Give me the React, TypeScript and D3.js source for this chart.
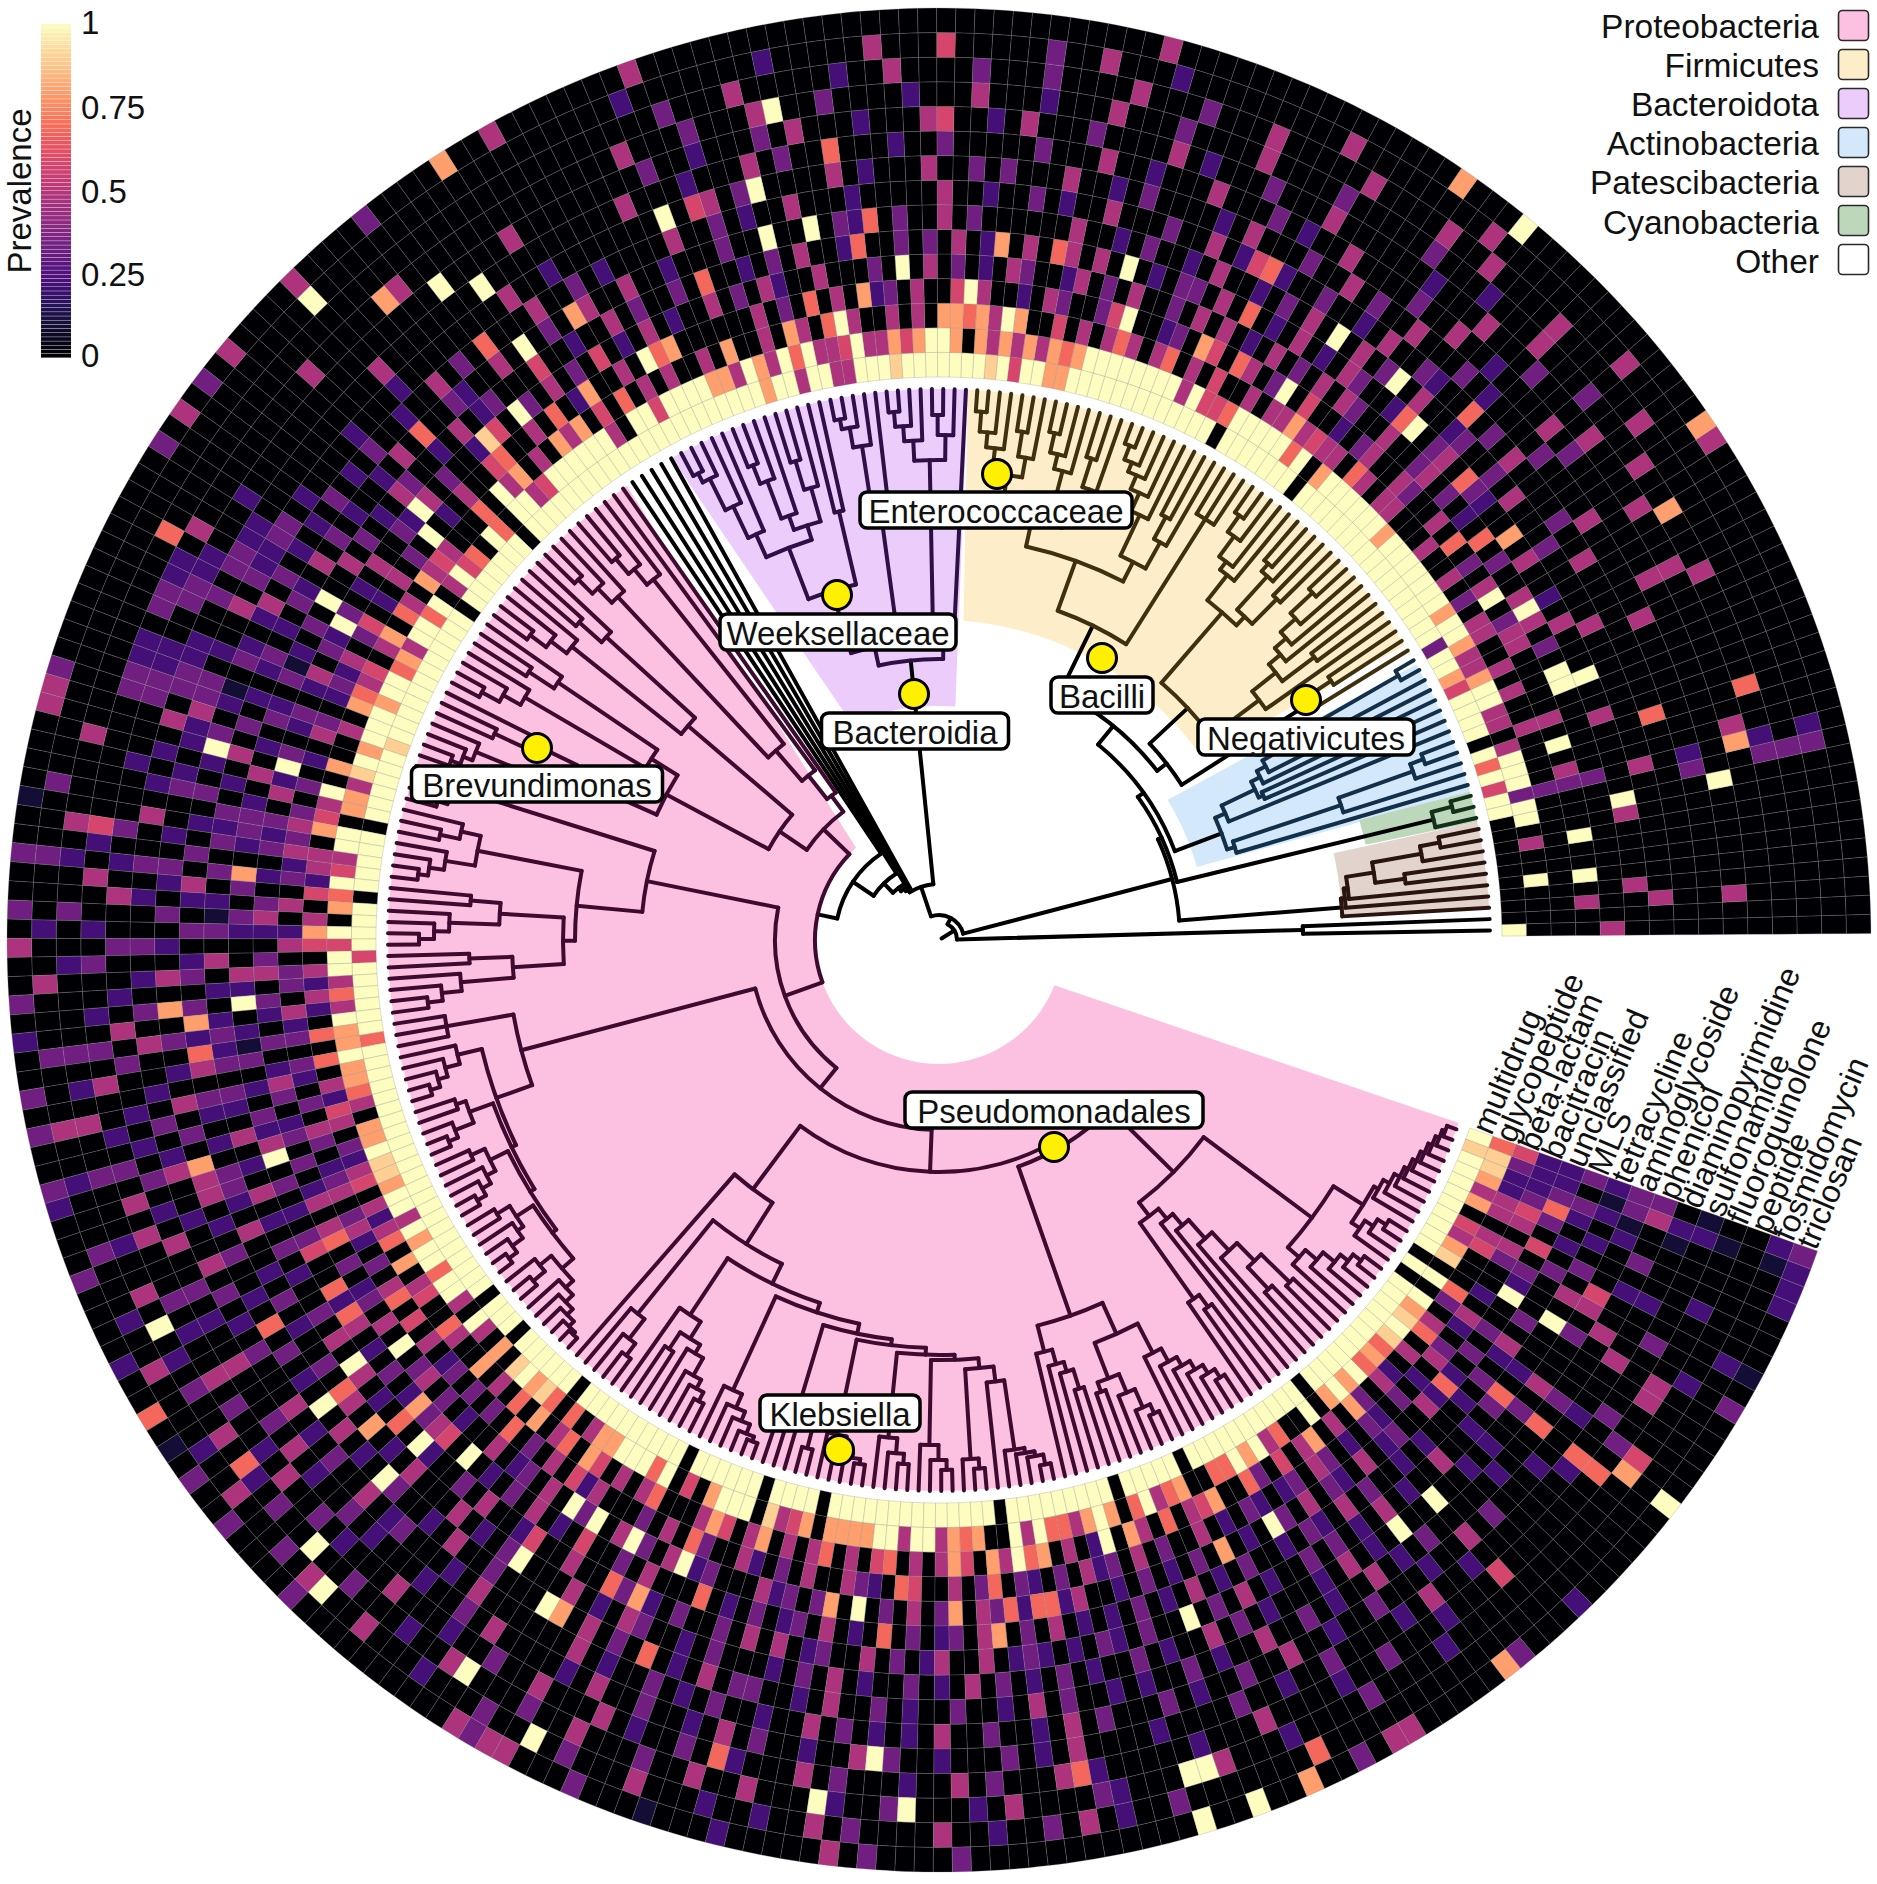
import * as d3 from 'd3'

// antibiotic classes, inner ring first
const drugClasses = ['multidrug', 'glycopeptide', 'beta-lactam', 'bacitracin', 'unclassified', 'MLS', 'tetracycline', 'aminoglycoside', 'phenicol', 'diaminopyrimidine', 'sulfonamide', 'fluoroquinolone', 'peptide', 'fosmidomycin', 'triclosan']

const multidrug = '900000000099596909999579 939999999999999999909999 999099999999999997799598 999999989994499499799999 999999999999999999099999 990999999999999899999909 999909999599999969999999 999999999999999909990999 999099999999990999999099 990999999999999990999999 999099999099999999999099 999999999909099999999989'
const glycopeptide = '000090040993999404499744 799799999997999999709699 999655949999999976747474 707997574495449694794779 999599049999995499769065 947969947699799979849709 945967095994649779776407 798879949799699479497089 786760477999699507999784 570767799499476790949664 797069467606697946009479 796768987909087450747886'
const betaLactam = '000000000003000040040400 440304004000440460445404 404005040640464040500704 767704040040604704007040 040406050747040745060004 547046074054670400704457 044250475042420606042540 324504246070450064007040 607046075040460004750470 404604056040405074067040 250740604570063050470407 304204064036000540442235'
const bacitracin = '004000000003400040000044 300403060400340043020050 030460500320005300340200 425004032704060304000000 003040052060400650040203 030402053042320340203034 342304024033042303203043 023403420304605040230303 060304052400030406300420 304004320650040360320304 230403004020320230430203 203020430240200340453222'
const unclassified = '400000000003000000000304 040030602030430040034040 304020404030040304200340 203040303000400240304002 040205030403005420030402 300402030230420320302403 230203420340320302430230 302404603023040203403020 040230400300403040230004 230340203040320430203240 020302030402023040320402 300420203030002302036322'
const mls = '000400004000000400000040 200404002300430062003402 040202040330200040430400 204030300620040302006030 030400200500032040200340 203040020302130230204023 320230320042302130203240 030203500320402030203420 402030402050030400040203 023040206030230420304020 203020402030020320403002 020002030240300030202303'
const tetracycline = '004000000004000000000400 000300040300320040030403 040302004020030200400000 030400300230400300300020 040040030204002300604020 020304023020320203040203 230302130402023230320402 040203020030403402060420 030400250040063020300304 040230040302400402320203 203002030402003030204020 040020300200020403020212'
const aminoglycoside = '000000000000006000000000 040030000403060023004020 030020020400300040020300 200400000200040020300400 002030040006030400200302 030202030420230120302030 203042030230302040320203 320400203020030240302040 004020300004020430020300 020304020030204030203020 030200403020002040203003 002020030400030420002133'
const phenicol = '000000000032000000004000 000400003000020300040030 400300040200003020040003 030040002040000030400300 000002004000000002000200 002033223040020334220230 020320302040203020403024 402030020603020304020030 020400300020040306020403 300204003020030020403002 020030200400302004020300 000200020300004002030043'
const diaminopyrimidine = '004000000000000000000040 000000030400002004003000 040020300040002004000300 000300200060030400020004 000000000400000004000000 000002233030022330402020 400302003020304002030240 020040302030004020300402 300020400000040200302030 020040302020400300204030 003020030040020030002004 030002000200040002000120'
const sulfonamide = '000000000000400000000040 004000040000300040002000 000400030002040000300040 200040002000403000200300 000000400000000000000000 000020002233002233000200 030204003002040300202030 204003020040003040200302 000200304000020400300204 030020040300200030204000 020000300200300002040020 000000200030000300000021'
const fluoroquinolone = '000000000032006000000400 000040000300040002000300 000300004000030004000200 040002000030004000300040 000000000000040000004000 000000040223302233000000 002040020300203040020304 040003020040300204003020 004000200300400040200300 200040300020040300040200 000200040000200300020005 000000000300000000200010'
const peptide = '000000000030000000000000 000000400000040000400400 004000004000300040000300 030000400200000400030000 000000000000000000000000 000000000000000000004000 040200300200003020400300 020040002030040020300400 300020040000300400030040 040000200300002040000320 000040002000030000200000 000000000000002000000000'
const fosmidomycin = '000000000032000000000000 000000000400000000040000 000040000000002000400300 000400040000020000000200 000000000000000000000000 000000000000000000000003 000300020040003000400200 030002004000020040003040 004000200030000300040002 002004030000400200304020 030000000200000000000000 000000000000000020000012'
const triclosan = '000000000000000000000000 000470000000000000900070 000000000000000400000000 000000000000000000004000 000040070000300004000040 304030000000000003440000 100300304003020030300320 003000020060103003000030 000000000434400030001000 200000403000030000000000 009009007003044000007300 020000009000003010002223'

const ringValues = [multidrug, glycopeptide, betaLactam, bacitracin, unclassified, mls, tetracycline, aminoglycoside, phenicol, diaminopyrimidine, sulfonamide, fluoroquinolone, peptide, fosmidomycin, triclosan]
const levels = [0, 0.1, 0.22, 0.33, 0.48, 0.58, 0.68, 0.8, 0.9, 1]

// cells that stand out in the picture: ring, tip, level
const brightCells = [
  [3, 4, 9], [3, 7, 9], [3, 14, 9], [4, 18, 9], [4, 19, 9], [5, 9, 9], [5, 18, 9], [9, 9, 9], [5, 8, 4], [5, 3, 4], [6, 2, 4], [6, 11, 4], [7, 14, 6], [10, 12, 4], [10, 11, 7], [11, 14, 6], [8, 10, 3], [8, 11, 2],
  [11, 85, 9], [8, 87, 9], [8, 93, 9], [8, 91, 5], [6, 87, 9], [6, 84, 9], [6, 80, 6], [4, 78, 9], [2, 83, 9],
  [13, 113, 9], [11, 110, 7], [10, 107, 9], [9, 105, 9], [6, 101, 7], [6, 105, 9], [4, 108, 9], [4, 111, 8], [3, 103, 7], [3, 97, 6], [3, 98, 9], [3, 96, 7],
  [2, 113, 9], [4, 118, 9], [3, 119, 9], [5, 127, 9], [4, 128, 9], [12, 128, 6], [7, 139, 9], [4, 139, 9], [2, 140, 9], [1, 140, 7], [11, 145, 5], [5, 147, 7],
  [5, 156, 9], [8, 156, 7], [7, 157, 7], [7, 159, 6], [5, 167, 9], [8, 166, 7], [1, 166, 0], [12, 174, 9], [5, 177, 6], [5, 179, 6], [6, 182, 9], [4, 183, 9], [12, 183, 6], [7, 183, 6], [8, 183, 9],
  [7, 186, 7], [5, 187, 7], [6, 189, 9], [5, 192, 9], [8, 189, 9], [5, 190, 5], [12, 189, 9], [13, 191, 9], [12, 200, 9], [13, 205, 9], [8, 202, 9], [8, 203, 7], [7, 199, 9], [4, 200, 9], [4, 202, 9], [4, 205, 9],
  [6, 207, 7], [4, 209, 9], [5, 211, 6], [11, 215, 6], [4, 222, 9], [4, 220, 7], [1, 220, 7], [12, 221, 9], [10, 224, 9], [12, 226, 9],
  [2, 229, 7], [4, 229, 7], [5, 232, 7], [2, 234, 9], [4, 233, 6], [4, 235, 6], [4, 236, 6], [11, 236, 6], [2, 241, 9], [12, 242, 9], [12, 243, 9], [6, 245, 9], [4, 249, 7], [4, 253, 9], [7, 260, 9], [7, 263, 9], [13, 249, 6],
  [8, 271, 6], [10, 271, 6], [11, 271, 6], [12, 272, 7], [12, 273, 5], [6, 271, 6], [4, 269, 6], [6, 277, 9], [4, 277, 9], [7, 280, 5], [4, 281, 5], [11, 277, 4], [11, 276, 4],
  [6, 42, 9], [5, 39, 9], [5, 62, 9], [3, 61, 9], [6, 47, 9], [3, 48, 9], [5, 53, 6], [3, 55, 7], [7, 53, 6], [7, 54, 5], [5, 67, 6], [2, 70, 9], [3, 73, 9], [5, 71, 7], [13, 75, 5], [10, 75, 5], [5, 34, 6], [5, 29, 7], [11, 25, 7], [4, 24, 9], [3, 26, 9], [2, 46, 7],
  [1, 114, 0], [1, 122, 0], [1, 184, 0], [1, 187, 0], [1, 195, 0], [1, 206, 0], [1, 213, 0], [1, 218, 0], [1, 232, 0], [1, 243, 0], [1, 249, 0], [1, 261, 0], [1, 276, 0],
]

// tree, each node is its radius with children, t is a tip
const otherStem = '364(t,t)'
const patescibacteria = '404(t,408(t,412(t,440(470(t,t),490(t,510(t,t))))))'
const cyanobacteria = '509(t,530(t,t))'
const actinobacteria = '302(310(t,424(t,503(t,517(t,t)))),313(t,350(355(t,t),360(t,370(t,420(t,530(t,t)))))))'
const negativicutes = '438(t,470(t,t))'
const firmJ = '400(t,430(470(t,t),445(t,460(t,480(t,510(t,t))))))'
const firmH = '433(445(480(t,t),490(t,500(t,t))),465(t,475(t,500(t,520(t,t)))))'
const firmK = '498(t,t,t)'
const firmM = '425(455(t,480(t,t)),470(t,490(t,505(t,515(t,530(t,t))))))'
const firmNa = '455(475(t,505(t,t)),485(t,500(t,520(t,t))))'
const enterococcaceae = '470(490(t,515(t,t)),495(t,510(t,530(t,t))))'
const firmicutes = `276(288(${negativicutes},340(${firmJ},${firmH})),350(${firmK},403(${firmM},430(${firmNa},${enterococcaceae}))))`
const lilacA = '300(t,480(505(t,525(t,t)),500(t,515(t,530(t,t)))))'
const lilacB = '420(t,500(t,520(t,530(t,t))))'
const weeksellaceae = '365(440(t,t),420(435(470(t,500(t,t)),450(t,490(t,510(t,t)))),445(t,480(t,515(t,525(t,t))))))'
const bacteroidota = `281(${lilacA},300(${lilacB},${weeksellaceae}))`
const alpha1 = '180(t,210(t,250(460(t,480(t,500(t,t))),470(t,490(t,510(t,t))))))'
const alpha3 = '330(450(t,480(t,t)),470(t,490(t,510(t,t))))'
const alpha5 = '340(460(t,490(t,t)),480(t,500(t,520(t,t))))'
const brevundimonas = '402(445(t,490(t,t)),500(t,510(t,520(t,t))))'
const alphaTop = `160(${alpha1},193(${alpha3},309(${alpha5},${brevundimonas})))`
const w1 = '501(t,510(t,520(t,t)))'
const w21 = '470(490(t,510(t,t)),500(t,515(t,525(t,t))))'
const w221 = '440(470(t,t),490(t,505(t,520(t,t))))'
const w222 = '427(470(t,t),480(t,500(t,515(t,t))))'
const cladeW = `298(${w1},364(${w21},376(${w221},${w222})))`
const v1 = '500(t,t,t)'
const v21 = '495(t,510(t,520(t,530(t,t))))'
const v22 = '500(510(t,t),520(t,530(t,t)))'
const v23 = '500(515(t,t),510(t,520(t,530(t,t))))'
const v24 = '505(520(t,t),512(t,525(t,535(t,t))))'
const v25 = '500(515(t,530(t,t)),510(t,520(t,528(t,535(t,538(t,t))))))'
const cladeV = `432(${v1},470(${v21},475(${v22},480(${v23},485(${v24},${v25})))))`
const n2a = '480(t,505(t,520(t,t)))'
const n3a = '450(t,470(490(t,t),480(t,500(t,510(t,520(t,t))))))'
const a1 = '495(t,510(t,520(t,530(t,535(t,t)))))'
const a2 = '495(515(t,t),505(t,525(t,t)))'
const klebsiella = '505(t,520(t,525(t,530(t,t))))'
const a4 = '500(t,515(t,525(t,t)))'
const a5 = '505(t,520(t,530(t,t)))'
const a6 = '520(t,530(t,t))'
const a7 = '445(t,515(t,520(t,525(t,535(t,t)))))'
const cladeZ = `311(t,360(${n2a},382(${n3a},392(${a1},402(${a2},408(${klebsiella},415(${a4},420(${a5},430(${a6},${a7})))))))))`
const pa1 = '425(t,440(t,450(t,470(t,t))))'
const pa2a = '470(480(t,t),490(t,510(t,520(t,t))))'
const pa2b = '465(t,480(t,490(t,500(t,510(t,520(t,t))))))'
const pb1 = '347(440(t,455(t,t)),360(t,375(t,400(t,425(t,450(480(t,t),490(t,t)))))))'
const pb2a = '480(t,495(t,510(t,520(t,530(t,t)))))'
const pb2b = '500(510(t,520(t,530(t,t))),505(t,512(t,518(t,522(t,526(t,530(t,534(t,538(t,541(t,t))))))))))'
const pseudomonadales = `240(398(${pa1},432(${pa2a},${pa2b})),330(${pb1},465(${pb2a},${pb2b})))`
const proteobacteria = `124(${alphaTop},164(${cladeW},190(${cladeV},232(${cladeZ},${pseudomonadales}))))`
const treeText = `18(${otherStem},25(241(${patescibacteria},245(${cyanobacteria},252(${actinobacteria},${firmicutes}))),56(${bacteroidota},59(t,62(t,66(t,79(t,104(t,${proteobacteria})))))))) `

// legend
const phylaNames = ['Proteobacteria', 'Firmicutes', 'Bacteroidota', 'Actinobacteria', 'Patescibacteria', 'Cyanobacteria', 'Other']
const phylaFills = ['#fcc0e0', '#fdedc8', '#ecccfb', '#d3e8fa', '#e2d3cc', '#bdd7bb', '#ffffff']
const colorTicks = [0, 0.25, 0.5, 0.75, 1]

// clades: tips covered, line colour, radius where the colour starts
const cladeFirstTip = [105, 26, 73, 13, 2, 10]
const cladeLastTip = [287, 72, 99, 25, 9, 12]
const cladeLines = ['#3d0a30', '#3f3010', '#2e0f48', '#12304a', '#2a1410', '#12301a']
const cladeFromRadius = [124, 330, 281, 300, 404, 509]

// highlight wedges: outer angles, inner angles, inner radius
const wedgeOuter = [[124.5, 340.6], [32.3, 87], [87, 119], [15.6, 30], [3.3, 12.4], [12.4, 15.6]]
const wedgeInner = [[132, 338.6], [35, 85.6], [86, 112], [15.8, 31.5], [3.3, 12.4], [12.6, 15.9]]
const wedgeRadius = [124, 320, 234, 268, 404, 437]

// named nodes in the tree
const tagNames = ['Enterococcaceae', 'Weeksellaceae', 'Bacteroidia', 'Brevundimonas', 'Bacilli', 'Negativicutes', 'Pseudomonadales', 'Klebsiella']
const tagBox = [[996, 510, 272], [838, 632, 236], [915, 731, 187], [537, 784, 251], [1102, 695, 102], [1306, 737, 216], [1054, 1110, 298], [840, 1413, 160]]
const tagDot = [[997, 474], [837, 595], [914, 694], [537, 748], [1102, 658], [1306, 700], [1054, 1147], [839, 1450]]

const W = 1877
const H = 1884
const cx = 939
const cy = 940
const tipCount = 288
const ringInner = 563
const ringOuter = 932
const tipRadius = 551
const font = '"Liberation Sans", Arial, sans-serif'

function parseTree(text: string) {
  let p = 0
  const node = (): any => {
    if (text[p] === 't') {
      p++
      return { r: tipRadius }
    }
    let s = ''
    while (text[p] !== '(') s += text[p++]
    p++
    const children = [node()]
    while (text[p] === ',') {
      p++
      children.push(node())
    }
    p++
    return { r: +s, children }
  }
  return node()
}

const polar = (r: number, deg: number): [number, number] => {
  const a = (deg * Math.PI) / 180
  return [cx + r * Math.cos(a), cy - r * Math.sin(a)]
}

export default function App() {
  const angle = d3.scaleLinear().domain([0, tipCount]).range([0.4, 340.5])
  const radius = d3.scaleLinear().domain([0, drugClasses.length]).range([ringInner, ringOuter])
  const color = (v: number) => d3.interpolateMagma(v)

  // level grid, ring by tip
  const grid = ringValues.map(ring =>
    ring.split(' ').flatMap(block => block.padEnd(24, '0').slice(0, 24).split('').map(Number)),
  )
  brightCells.forEach(([k, i, v]) => {
    grid[k][i] = v
  })

  const cellArc = d3.arc<any>()
  const cells: any[] = []
  grid.forEach((ring, k) => {
    ring.forEach((lv, i) => {
      cells.push({
        key: `${k}-${i}`,
        fill: color(levels[lv]),
        d: cellArc({
          innerRadius: radius(k),
          outerRadius: radius(k + 1),
          startAngle: ((90 - angle(i)) * Math.PI) / 180,
          endAngle: ((90 - angle(i + 1)) * Math.PI) / 180,
        }),
      })
    })
  })

  // tree layout from the parsed text
  const root = d3.hierarchy(parseTree(treeText.trim()))
  let tip = 0
  root.eachAfter((n: any) => {
    if (!n.children) {
      n.first = tip
      n.last = tip
      n.theta = angle(tip + 0.5)
      tip++
    } else {
      const kids = n.children
      n.first = kids[0].first
      n.last = kids[kids.length - 1].last
      n.theta = (kids[0].theta + kids[kids.length - 1].theta) / 2
    }
  })

  const lineColor = (source: any, target: any) => {
    for (let c = 0; c < cladeFirstTip.length; c++) {
      if (target.first >= cladeFirstTip[c] && target.last <= cladeLastTip[c] && source.data.r >= cladeFromRadius[c]) return cladeLines[c]
    }
    return '#000000'
  }

  const branches: { d: string; stroke: string }[] = []
  root.links().forEach(({ source, target }: any) => {
    const [x0, y0] = polar(source.data.r, target.theta)
    const [x1, y1] = polar(target.data.r, target.theta)
    branches.push({ d: `M${x0},${y0}L${x1},${y1}`, stroke: lineColor(source, target) })
  })
  root.descendants().forEach((n: any) => {
    if (!n.children) return
    const a = n.children[0].theta
    const b = n.children[n.children.length - 1].theta
    const [x0, y0] = polar(n.data.r, a)
    const [x1, y1] = polar(n.data.r, b)
    const parentLike = { data: { r: n.data.r } }
    branches.push({
      d: `M${x0},${y0}A${n.data.r},${n.data.r} 0 ${b - a > 180 ? 1 : 0} 0 ${x1},${y1}`,
      stroke: lineColor(parentLike, n),
    })
  })
  const [sx0, sy0] = polar(3, (root as any).theta)
  const [sx1, sy1] = polar((root.data as any).r, (root as any).theta)

  const wedgePath = (c: number) => {
    const steps = 60
    const pts: [number, number][] = []
    d3.range(steps + 1).forEach(s => {
      pts.push(polar(tipRadius, wedgeOuter[c][0] + ((wedgeOuter[c][1] - wedgeOuter[c][0]) * s) / steps))
    })
    d3.range(steps, -1, -1).forEach(s => {
      pts.push(polar(wedgeRadius[c], wedgeInner[c][0] + ((wedgeInner[c][1] - wedgeInner[c][0]) * s) / steps))
    })
    return d3.line().curve(d3.curveLinearClosed)(pts) as string
  }

  const barY = d3.scaleLinear().domain([0, 1]).range([358, 24])
  const bands = d3.range(0, 1, 0.0125)

  return (
    <svg width={W} height={H} viewBox={`0 0 ${W} ${H}`} style={{ position: 'absolute', left: 0, top: 0, background: '#fff' }} fontFamily={font}>
      {phylaFills.slice(0, 6).map((f, c) => <path key={c} d={wedgePath(c)} fill={f} />)}

      <g fill="none" strokeWidth={4} strokeLinecap="round" strokeLinejoin="miter">
        <path d={`M${sx0},${sy0}L${sx1},${sy1}`} stroke="#000" />
        {branches.map((b, i) => <path key={i} d={b.d} stroke={b.stroke} />)}
      </g>

      <g transform={`translate(${cx},${cy})`} stroke="#8a8a8a" strokeOpacity={0.4} strokeWidth={0.7}>
        {cells.map(c => <path key={c.key} d={c.d} fill={c.fill} />)}
      </g>

      {drugClasses.map((name, k) => {
        const [x, y] = polar((radius(k) + radius(k + 1)) / 2, 340.5)
        return (
          <text key={name} x={x} y={y} fontSize={32} dominantBaseline="central" transform={`rotate(-67 ${x} ${y})`} fill="#111">
            {name}
          </text>
        )
      })}

      {tagNames.map((name, t) => (
        <g key={name}>
          <circle cx={tagDot[t][0]} cy={tagDot[t][1]} r={14.5} fill="#ffef00" stroke="#000" strokeWidth={3} />
          <rect x={tagBox[t][0] - tagBox[t][2] / 2} y={tagBox[t][1] - 18} width={tagBox[t][2]} height={36} rx={7} fill="#fff" stroke="#000" strokeWidth={3.5} />
          <text x={tagBox[t][0]} y={tagBox[t][1] + 1} fontSize={33} textAnchor="middle" dominantBaseline="central" fill="#111">{name}</text>
        </g>
      ))}

      {bands.map(v => (
        <rect key={v} x={41} width={30} y={barY(v + 0.0125)} height={barY(v) - barY(v + 0.0125) - 0.4} fill={color(v + 0.006)} />
      ))}
      {colorTicks.map(t => (
        <text key={t} x={81} y={barY(t) + (t === 1 ? -2 : t === 0 ? -3 : 0)} fontSize={33} dominantBaseline="central" fill="#111">{t}</text>
      ))}
      <text transform="translate(31,191) rotate(-90)" fontSize={33} textAnchor="middle" fill="#111">Prevalence</text>

      {phylaNames.map((name, i) => (
        <g key={name}>
          <text x={1819} y={26 + i * 39.2} fontSize={33.5} textAnchor="end" dominantBaseline="central" fill="#111">{name}</text>
          <rect x={1838.5} y={10.5 + i * 39} width={30} height={30} rx={4} fill={phylaFills[i]} stroke="#2a2a2a" strokeWidth={1.6} />
        </g>
      ))}
    </svg>
  )
}
